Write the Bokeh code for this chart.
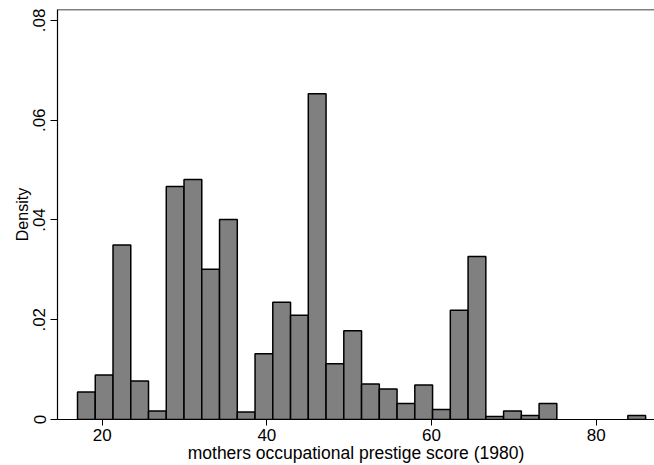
from bokeh.plotting import figure
from bokeh.models import ColumnDataSource, Range1d, FixedTicker, Span
from bokeh.embed import file_html
from bokeh.resources import INLINE

# Histogram of mothers' occupational prestige score (1980), density scale
bin_start = 17.0
bin_width = 69.0 / 32
density = [
    0.0055, 0.0089, 0.0350, 0.0077, 0.0017, 0.0467, 0.0481, 0.0301,
    0.0401, 0.0015, 0.0132, 0.0235, 0.0209, 0.0653, 0.0112, 0.0178,
    0.0071, 0.0061, 0.0032, 0.0069, 0.0020, 0.0219, 0.0327, 0.0006,
    0.0017, 0.0008, 0.0032, 0.0, 0.0, 0.0, 0.0, 0.0008,
]
x_ticks = [20, 40, 60, 80]
y_ticks = [0, 0.02, 0.04, 0.06, 0.08]
y_tick_labels = ["0", ".02", ".04", ".06", ".08"]

left = [bin_start + i * bin_width for i in range(len(density))]
right = [l + bin_width for l in left]
src = ColumnDataSource(dict(
    left=[l for l, d in zip(left, density) if d > 0],
    right=[r for r, d in zip(right, density) if d > 0],
    top=[d for d in density if d > 0],
))

FONT = "Liberation Sans"
x_lo, x_hi = 14.57, 87.08
y_lo, y_hi = 0.0, 0.0822

p = figure(width=654, height=465, output_backend="svg", toolbar_location=None,
           x_range=Range1d(x_lo, x_hi), y_range=Range1d(y_lo, y_hi),
           min_border_left=57, min_border_right=0, min_border_top=9,
           min_border_bottom=45)
p.background_fill_color = "white"
p.border_fill_color = "white"
p.outline_line_color = None
p.grid.visible = False

p.quad(left="left", right="right", bottom=0, top="top", source=src,
       fill_color="#808080", line_color="black", line_width=1.5)

# top edge of the plot region
p.add_layout(Span(location=y_hi, dimension="width", line_color="black",
                  line_width=1.5))

for ax in (p.xaxis[0], p.yaxis[0]):
    ax.axis_line_color = "black"
    ax.axis_line_width = 1.2
    ax.major_tick_line_color = "black"
    ax.major_tick_in = 0
    ax.minor_tick_line_color = None
    ax.major_label_text_font = FONT
    ax.major_label_text_font_size = "17px"
    ax.major_label_text_color = "black"
    ax.axis_label_text_font = FONT
    ax.axis_label_text_font_style = "normal"
    ax.axis_label_text_color = "black"

p.xaxis.ticker = FixedTicker(ticks=x_ticks)
p.xaxis.major_tick_out = 6
p.xaxis.major_label_standoff = 3
p.xaxis.axis_label = "mothers occupational prestige score (1980)"
p.xaxis.axis_label_text_font_size = "17.5px"
p.xaxis.axis_label_standoff = -1

p.yaxis.ticker = FixedTicker(ticks=y_ticks)
p.yaxis.major_label_overrides = {t: s for t, s in zip(y_ticks, y_tick_labels)}
p.yaxis.major_label_orientation = "vertical"
p.yaxis.major_tick_out = 7
p.yaxis.major_label_standoff = 5
p.yaxis.axis_label = "Density"
p.yaxis.axis_label_text_font_size = "16px"
p.yaxis.axis_label_standoff = 0

open("out.html", "w").write(file_html(p, INLINE))
